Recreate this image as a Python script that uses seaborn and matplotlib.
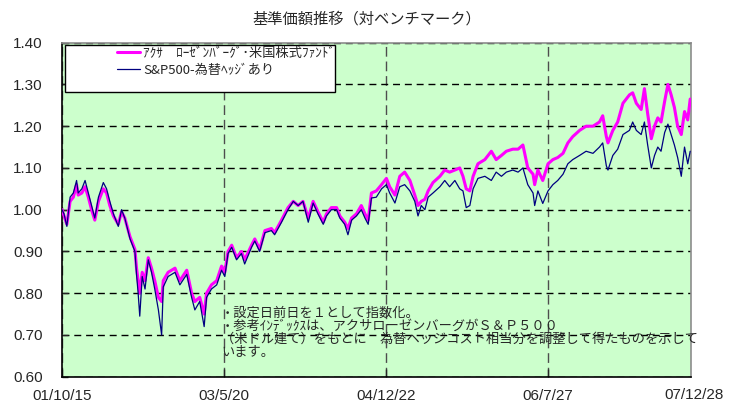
import numpy as np
import pandas as pd
import matplotlib
matplotlib.use("Agg")
import matplotlib.pyplot as plt
import seaborn as sns
from matplotlib.patches import Rectangle

# trading-day index (0 = 2001/10/15) and index values
days = [0, 5, 12, 20, 28, 36, 40, 49, 57, 65, 73, 81, 90, 102, 110, 118, 127,
        139, 147, 155, 168, 180, 184, 188, 192, 198, 205, 213, 221, 229, 238,
        246, 250, 262, 279, 291, 308, 320, 328, 340, 351, 357, 369, 382, 394,
        402, 410, 419, 431, 443, 451, 468, 476, 488, 501, 517, 525, 542, 558,
        571, 583, 595, 608, 620, 632, 645, 653, 665, 678, 686, 698, 706, 715,
        727, 739, 748, 756, 764, 776, 789, 801, 809, 822, 834, 846, 859, 871,
        879, 887, 896, 904, 916, 933, 945, 957, 970, 982, 990, 998, 1007, 1015,
        1027, 1044, 1060, 1072, 1085, 1097, 1113, 1126, 1138, 1150, 1163, 1167,
        1175, 1187, 1200, 1212, 1224, 1237, 1249, 1261, 1278, 1294, 1311, 1327,
        1335, 1344, 1348, 1360, 1372, 1385, 1401, 1409, 1418, 1430, 1438, 1446,
        1455, 1463, 1471, 1479, 1488, 1496, 1504, 1512, 1520, 1529, 1537, 1545,
        1551]

sp500 = [1.00, 0.99, 0.96, 1.03, 1.04, 1.07, 1.04, 1.05, 1.07, 1.04, 1.01, 0.98,
         1.03, 1.065, 1.05, 1.02, 0.99, 0.96, 1.00, 0.98, 0.93, 0.90, 0.845, 0.80,
         0.745, 0.84, 0.81, 0.88, 0.85, 0.81, 0.76, 0.70, 0.815, 0.84, 0.85, 0.82,
         0.845, 0.79, 0.76, 0.78, 0.72, 0.79, 0.81, 0.82, 0.855, 0.84, 0.895, 0.91,
         0.88, 0.895, 0.87, 0.91, 0.925, 0.90, 0.945, 0.95, 0.94, 0.97, 1.00, 1.02,
         1.01, 1.02, 0.97, 1.016, 0.99, 0.965, 0.985, 1.00, 1.00, 0.98, 0.965, 0.94,
         0.975, 0.985, 1.00, 0.98, 0.965, 1.028, 1.03, 1.05, 1.06, 1.04, 1.016,
         1.055, 1.06, 1.045, 1.02, 0.985, 1.01, 1.00, 1.03, 1.04, 1.055, 1.07,
         1.055, 1.07, 1.05, 1.045, 1.005, 1.01, 1.05, 1.075, 1.08, 1.07, 1.09,
         1.08, 1.09, 1.095, 1.09, 1.10, 1.06, 1.04, 1.01, 1.045, 1.015, 1.045,
         1.06, 1.07, 1.085, 1.11, 1.12, 1.13, 1.14, 1.135, 1.15, 1.16, 1.105,
         1.095, 1.13, 1.145, 1.18, 1.19, 1.21, 1.19, 1.18, 1.21, 1.155, 1.10,
         1.13, 1.15, 1.14, 1.185, 1.205, 1.18, 1.155, 1.125, 1.08, 1.15, 1.11,
         1.14]

fund = [1.00, 0.985, 0.965, 1.02, 1.03, 1.06, 1.035, 1.04, 1.055, 1.03, 1.00,
        0.975, 1.02, 1.05, 1.04, 1.01, 0.985, 0.965, 0.995, 0.98, 0.935, 0.905,
        0.86, 0.83, 0.80, 0.85, 0.83, 0.885, 0.86, 0.83, 0.79, 0.78, 0.83, 0.85,
        0.86, 0.83, 0.855, 0.80, 0.78, 0.79, 0.75, 0.80, 0.82, 0.83, 0.865, 0.85,
        0.90, 0.915, 0.885, 0.90, 0.88, 0.915, 0.93, 0.905, 0.95, 0.955, 0.945,
        0.975, 1.005, 1.02, 1.01, 1.02, 0.98, 1.02, 0.995, 0.97, 0.99, 1.005,
        1.005, 0.985, 0.97, 0.955, 0.98, 0.99, 1.01, 0.99, 0.975, 1.04, 1.045,
        1.06, 1.075, 1.055, 1.035, 1.08, 1.09, 1.07, 1.035, 1.01, 1.02, 1.025,
        1.045, 1.065, 1.08, 1.095, 1.09, 1.095, 1.10, 1.08, 1.05, 1.045, 1.08,
        1.11, 1.12, 1.14, 1.12, 1.13, 1.14, 1.145, 1.145, 1.155, 1.10, 1.085,
        1.06, 1.095, 1.07, 1.11, 1.12, 1.125, 1.135, 1.16, 1.175, 1.19, 1.20,
        1.20, 1.21, 1.225, 1.175, 1.16, 1.19, 1.21, 1.255, 1.275, 1.28, 1.255,
        1.24, 1.29, 1.23, 1.17, 1.20, 1.22, 1.21, 1.26, 1.30, 1.275, 1.245, 1.20,
        1.18, 1.235, 1.215, 1.265]

tick_days = [0, 400, 800, 1200]
tick_labels = ["01/10/15", "03/5/20", "04/12/22", "06/7/27"]
last_day = 1553
last_label = "07/12/28"
y_ticks = [0.6, 0.7, 0.8, 0.9, 1.0, 1.1, 1.2, 1.3, 1.4]

fund_name = "ｱｸｻ　ﾛｰｾﾞﾝﾊﾞｰｸﾞ･米国株式ﾌｧﾝﾄﾞ"
bench_name = "S&P500-為替ﾍｯｼﾞあり"
title = "基準価額推移（対ベンチマーク）"
notes = [
    "・設定日前日を１として指数化。",
    "・参考ｲﾝﾃﾞｯｸｽは、アクサローゼンバーグがＳ＆Ｐ５００",
    "（米ドル建て）をもとに　為替ヘッジコスト相当分を調整して得たものを示して",
    "います。",
]

sns.set_style("white")
plt.rcParams["font.family"] = ["Noto Sans CJK JP", "DejaVu Sans"]

df = pd.DataFrame({"day": days, "fund": fund, "sp500": sp500})

W, H = 734, 403
fig = plt.figure(figsize=(W / 100, H / 100), dpi=100)
ax = fig.add_axes([62 / W, (H - 376.7) / H, 629 / W, 334 / H])
ax.set_facecolor("#ccffcc")

sns.lineplot(data=df, x="day", y="fund", ax=ax, color="#ff00ff", lw=2.2,
             label=fund_name, zorder=3)
sns.lineplot(data=df, x="day", y="sp500", ax=ax, color="#000080", lw=0.9,
             label=bench_name, zorder=4)

ax.set_xlim(0, last_day)
ax.set_ylim(0.6, 1.4)
ax.set_xlabel("")
ax.set_ylabel("")

ax.set_yticks(y_ticks)
ax.set_yticklabels([f"{v:.2f}" for v in y_ticks], fontfamily="Liberation Sans",
                   fontsize=11)
ax.set_xticks(tick_days)
ax.set_xticklabels(tick_labels, fontfamily="Liberation Sans", fontsize=11)
ax.tick_params(axis="y", direction="in", length=4, width=1, pad=14, left=True)
ax.tick_params(axis="x", direction="in", length=6, width=1, pad=9, bottom=True)

ax.yaxis.grid(True, color="black", lw=1, linestyle=(0, (5, 3.5)))
ax.xaxis.grid(True, color="#4d4d4d", lw=1, linestyle=(0, (7, 3.5)))

for side in ["left", "bottom"]:
    ax.spines[side].set_color("black")
    ax.spines[side].set_linewidth(1.2)
for side in ["top", "right"]:
    ax.spines[side].set_color("#8c8c8c")
    ax.spines[side].set_linewidth(1.2)

# last date label sits at the right edge, a little higher than the others
ax.annotate(last_label, xy=(last_day, 0.6), xycoords="data",
            xytext=(2, -8), textcoords="offset points", ha="center", va="top",
            fontsize=11, fontfamily="Liberation Sans", annotation_clip=False)

# legend box
box = Rectangle(((65 - 62) / 629, (376.7 - 92) / 334), 270 / 629, 47 / 334,
                transform=ax.transAxes, facecolor="white", edgecolor="black",
                lw=1, zorder=5)
ax.add_patch(box)
leg = ax.legend(loc="upper left", bbox_to_anchor=((117 - 62) / 629, (376.7 - 47) / 334),
                frameon=False, fontsize=9.5, handlelength=1.75, handletextpad=0.25,
                labelspacing=0.3, borderpad=0, borderaxespad=0)
leg.set_zorder(6)

fig.text(0.5, 1 - 19.5 / H, title, ha="center", va="center", fontsize=11)

for i, line in enumerate(notes):
    fig.text(221 / W, 1 - (313 + 13.3 * i) / H, line, ha="left", va="center",
             fontsize=9.5)

fig.savefig("out.png", dpi=100)
